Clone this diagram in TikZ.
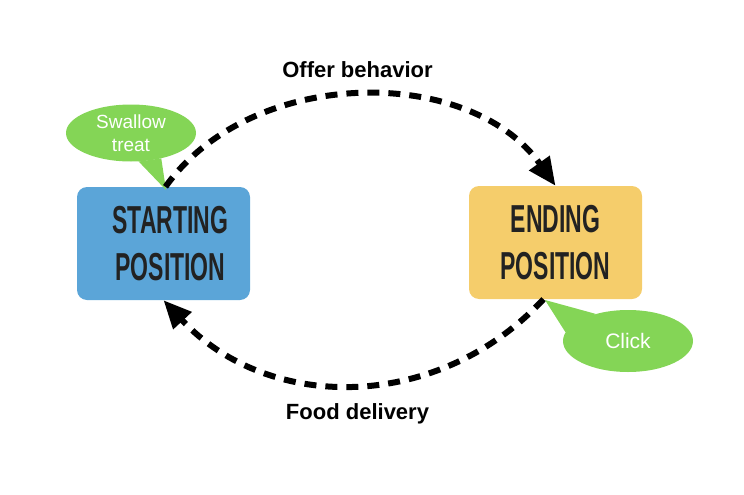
\documentclass[tikz,border=0pt]{standalone}
\usepackage{fontspec}
\setmainfont{Liberation Sans}
\newfontfamily\condfont[FakeStretch=0.59]{Liberation Sans}
\usepackage{tikz}
\usetikzlibrary{arrows.meta}
\usetikzlibrary{shapes.geometric}
\definecolor{boxblue}{RGB}{91,165,216}
\definecolor{boxyellow}{RGB}{245,205,107}
\definecolor{bubblegreen}{RGB}{132,213,86}
\definecolor{textdark}{RGB}{34,34,34}
\tikzset{
  posbox/.style={shape=rectangle, rounded corners=10pt, minimum width=173pt, minimum height=113pt, align=center, text=textdark, font=\condfont\bfseries\fontsize{39}{47}\selectfont},
  bubble/.style={shape=ellipse, fill=bubblegreen, text=white, align=center, inner sep=0pt},
  loopline/.style={line width=6pt, dash pattern=on 12pt off 9pt, -{Triangle[length=28pt,width=24pt]}},
  looplabel/.style={font=\bfseries\fontsize{22}{26}\selectfont}
}
\begin{document}
\begin{tikzpicture}
\useasboundingbox (0pt,0pt) rectangle (744pt,-495pt);
% the two positions
\node[posbox, fill=boxblue] (start) at (163.5pt,-243.5pt) {\hspace*{14pt}STARTING\\\hspace*{14pt}POSITION};
\node[posbox, fill=boxyellow] (end) at (555.5pt,-242.5pt) {ENDING\\POSITION};
% speech bubbles
\node[bubble, minimum width=130pt, minimum height=57pt, font=\fontsize{19}{23}\selectfont] (swallow) at (131pt,-133pt) {Swallow\\treat};
\node[bubble, minimum width=130pt, minimum height=62pt, font=\fontsize{21}{25}\selectfont] (click) at (628pt,-341pt) {Click};
\coordinate (swallowtip) at (166pt,-190pt);
\coordinate (clicktip) at (545pt,-300pt);
\fill[bubblegreen] (swallow.-75) -- (swallowtip) -- (swallow.-40) -- cycle;
\fill[bubblegreen] (click.140) -- (clicktip) -- (click.172) -- cycle;
% the loop
\draw[loopline] ([xshift=2pt]start.north) .. controls +(86pt,121pt) and +(-86pt,121pt) .. (end.north)
  node[looplabel, midway, above=12pt, xshift=-3pt] (offer) {Offer behavior};
\draw[loopline] ([xshift=-12pt]end.south) .. controls +(-105pt,-113pt) and +(105pt,-113pt) .. (start.south)
  node[looplabel, midway, below=13pt, xshift=4pt] (food) {Food delivery};
\end{tikzpicture}
\end{document}
